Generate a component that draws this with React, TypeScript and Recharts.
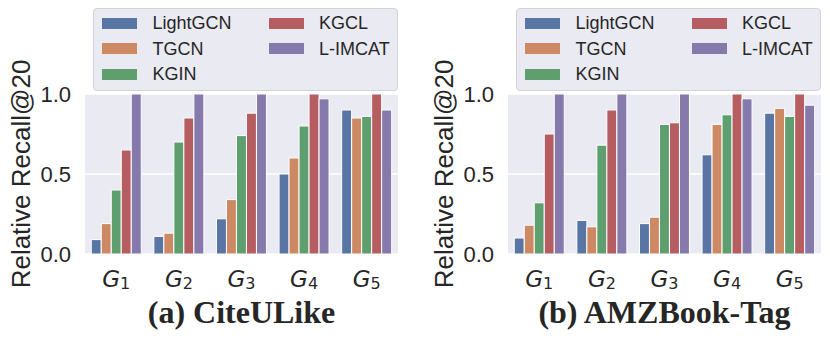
import React from 'react';
import { Bar, BarChart, CartesianGrid, XAxis, YAxis } from 'recharts';

const groups = ['1', '2', '3', '4', '5'];
const methods = ['LightGCN', 'TGCN', 'KGIN', 'KGCL', 'L-IMCAT'];
const colors = ['#5975A4', '#CC8963', '#5F9E6E', '#B55D60', '#857AAB'];
const yTicks = [0, 0.5, 1.0];

// (a) CiteULike
const citeLightGCN = [0.09, 0.11, 0.22, 0.5, 0.9];
const citeTGCN = [0.19, 0.13, 0.34, 0.6, 0.85];
const citeKGIN = [0.4, 0.7, 0.74, 0.8, 0.86];
const citeKGCL = [0.65, 0.85, 0.88, 1.0, 1.0];
const citeLIMCAT = [1.0, 1.0, 1.0, 0.97, 0.9];

// (b) AMZBook-Tag
const amzLightGCN = [0.1, 0.21, 0.19, 0.62, 0.88];
const amzTGCN = [0.18, 0.17, 0.23, 0.81, 0.91];
const amzKGIN = [0.32, 0.68, 0.81, 0.87, 0.86];
const amzKGCL = [0.75, 0.9, 0.82, 1.0, 1.0];
const amzLIMCAT = [1.0, 1.0, 1.0, 0.97, 0.93];

const ink = '#262626';
const sans = '"Liberation Sans", Arial, sans-serif';

function buildRows(series: number[][]) {
  return groups.map((g, i) => {
    const row: Record<string, string | number> = { group: g };
    methods.forEach((m, j) => {
      row[m] = series[j][i];
    });
    return row;
  });
}

const citeRows = buildRows([citeLightGCN, citeTGCN, citeKGIN, citeKGCL, citeLIMCAT]);
const amzRows = buildRows([amzLightGCN, amzTGCN, amzKGIN, amzKGCL, amzLIMCAT]);

function GroupTick({ x, y, payload }: any) {
  return (
    <text x={x} y={y + 33} textAnchor="middle" fill={ink} fontFamily='"DejaVu Sans", sans-serif'>
      <tspan fontStyle="italic" fontSize={23}>G</tspan>
      <tspan fontSize={16} dy={2}>{payload.value}</tspan>
    </text>
  );
}

function YLabel({ viewBox }: any) {
  const bx = viewBox.x + viewBox.width - 55;
  const cy = viewBox.y + viewBox.height / 2;
  return (
    <text x={bx} y={cy} transform={`rotate(-90, ${bx}, ${cy})`} textAnchor="middle" fill={ink} fontSize={26} fontFamily={sans}>
      Relative Recall@20
    </text>
  );
}

function Legend({ right }: { right: number }) {
  const rowsY = [15, 40.6, 66];
  return (
    <div
      style={{
        position: 'absolute',
        left: right - 305,
        top: 8,
        width: 305,
        height: 83,
        boxSizing: 'border-box',
        background: '#EAEAF2',
        border: '1px solid #D2D2D8',
        borderRadius: 4
      }}
    >
      {methods.map((m, i) => {
        const col = i < 3 ? 0 : 1;
        const cy = rowsY[col ? i - 3 : i] - 1;
        return (
          <React.Fragment key={m}>
            <div style={{ position: 'absolute', left: col ? 175 : 7.5, top: cy - 5.5, width: 35, height: 11, background: colors[i] }} />
            <div style={{ position: 'absolute', left: col ? 225 : 58.5, top: cy - 11, lineHeight: '22px', fontSize: 18, fontFamily: sans, color: ink, whiteSpace: 'nowrap' }}>
              {m}
            </div>
          </React.Fragment>
        );
      })}
    </div>
  );
}

function Panel({ rows, title, left, plotLeft, plotRight }: any) {
  return (
    <div style={{ position: 'absolute', left, top: 0, width: 415, height: 347 }}>
      <BarChart
        width={415}
        height={347}
        data={rows}
        margin={{ top: 94, bottom: 53, left: plotLeft - 60, right: 415 - plotRight }}
        barCategoryGap="10%"
        barGap={0}
      >
        <CartesianGrid fill="#EAEAF2" stroke="#ffffff" strokeWidth={1.5} vertical={false} />
        <XAxis dataKey="group" height={40} tickLine={false} axisLine={false} tickSize={0} tickMargin={0} tick={<GroupTick />} interval={0} />
        <YAxis
          width={60}
          domain={[0, 1]}
          ticks={yTicks}
          tickFormatter={(v: number) => v.toFixed(1)}
          tickLine={false}
          axisLine={false}
          tickSize={6}
          tickMargin={8}
          tick={{ fontSize: 22, fill: ink, fontFamily: sans }}
          label={<YLabel />}
        />
        {methods.map((m, i) => (
          <Bar key={m} dataKey={m} fill={colors[i]} stroke="#ffffff" strokeWidth={1} isAnimationActive={false} />
        ))}
      </BarChart>
      <Legend right={plotRight} />
      <div
        style={{
          position: 'absolute',
          left: plotLeft,
          width: plotRight - plotLeft,
          top: 296,
          lineHeight: '32px',
          textAlign: 'center',
          fontFamily: '"Liberation Serif", "Times New Roman", serif',
          fontWeight: 'bold',
          fontSize: 32,
          color: ink,
          whiteSpace: 'nowrap'
        }}
      >
        {title}
      </div>
    </div>
  );
}

export default function App() {
  return (
    <div style={{ position: 'absolute', left: 0, top: 0, width: 830, height: 347, background: '#ffffff' }}>
      <Panel rows={citeRows} title="(a) CiteULike" left={0} plotLeft={85} plotRight={398} />
      <Panel rows={amzRows} title="(b) AMZBook-Tag" left={415} plotLeft={93} plotRight={406} />
    </div>
  );
}
